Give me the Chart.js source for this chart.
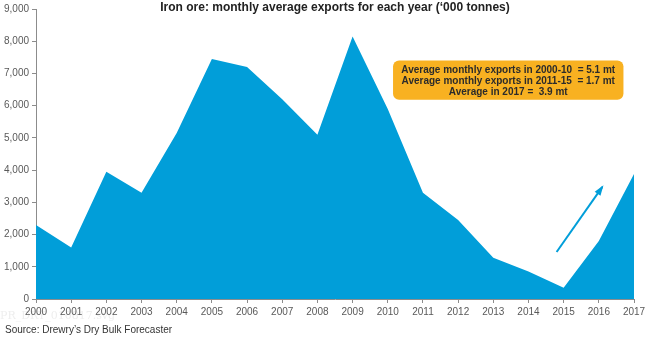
<!DOCTYPE html>
<html>
<head>
<meta charset="utf-8">
<script src="https://cdn.jsdelivr.net/npm/chart.js@4.4.1/dist/chart.umd.min.js"></script>
<style>
  html, body { margin: 0; padding: 0; background: #fff; }
  #wrap { width: 650px; height: 338px; position: relative; }
</style>
</head>
<body>
<div id="wrap"><canvas id="chart"></canvas></div>
<script>
// --- dados do gráfico ---
const years = ['2000', '2001', '2002', '2003', '2004', '2005', '2006', '2007', '2008',
               '2009', '2010', '2011', '2012', '2013', '2014', '2015', '2016', '2017'];
const exportsKt = [2300, 1600, 3950, 3300, 5150, 7450, 7200, 6200, 5100,
                   8150, 5900, 3300, 2450, 1280, 850, 350, 1800, 3880];
const yTicks = [0, 1000, 2000, 3000, 4000, 5000, 6000, 7000, 8000, 9000];
const titleText = 'Iron ore: monthly average exports for each year (\u2018000 tonnes)';
const sourceText = 'Source: Drewry\u2019s Dry Bulk Forecaster';
const watermarkText = 'PR_DRY_010817.svg';
const noteLines = [
  'Average monthly exports in 2000-10  = 5.1 mt',
  'Average monthly exports in 2011-15  = 1.7 mt',
  'Average in 2017 =  3.9 mt'
];
// seta de tendência (índice do ano, valor)
const arrowFrom = [14.8, 1460];
const arrowTo = [16.1, 3480];

const BLUE = '#019ED9';
const TEXT = '#595959';

// plugin para título, nota, seta e fonte
const extrasPlugin = {
  id: 'extras',
  beforeDraw(chart) {
    // marca d'água bem clara, atrás de tudo
    const { ctx } = chart;
    ctx.save();
    ctx.fillStyle = '#eeeeee';
    ctx.font = '11px "DejaVu Serif", serif';
    ctx.textAlign = 'left';
    ctx.textBaseline = 'middle';
    ctx.fillText(watermarkText, 0, 316);
    ctx.restore();
  },
  afterDatasetsDraw(chart) {
    const { ctx, scales: { x, y }, chartArea } = chart;
    ctx.save();
    ctx.textBaseline = 'middle';

    // título
    ctx.fillStyle = '#222';
    ctx.font = 'bold 12px "Liberation Sans", Arial, sans-serif';
    ctx.textAlign = 'center';
    ctx.fillText(titleText, (chartArea.left + chartArea.right) / 2, 8);

    // seta
    const x1 = x.getPixelForValue(arrowFrom[0]), y1 = y.getPixelForValue(arrowFrom[1]);
    const x2 = x.getPixelForValue(arrowTo[0]), y2 = y.getPixelForValue(arrowTo[1]);
    ctx.strokeStyle = BLUE;
    ctx.fillStyle = BLUE;
    ctx.lineWidth = 2;
    ctx.beginPath();
    ctx.moveTo(x1, y1);
    ctx.lineTo(x2, y2);
    ctx.stroke();
    const ang = Math.atan2(y2 - y1, x2 - x1);
    const hl = 9;
    ctx.beginPath();
    ctx.moveTo(x2 + 2 * Math.cos(ang), y2 + 2 * Math.sin(ang));
    ctx.lineTo(x2 - hl * Math.cos(ang - 0.4), y2 - hl * Math.sin(ang - 0.4));
    ctx.lineTo(x2 - hl * Math.cos(ang + 0.4), y2 - hl * Math.sin(ang + 0.4));
    ctx.closePath();
    ctx.fill();

    // caixa de nota
    const bx = x.getPixelForValue(10.15), bw = x.getPixelForValue(16.7) - bx;
    const by = y.getPixelForValue(7400), bh = y.getPixelForValue(6180) - by;
    ctx.fillStyle = '#F8B121';
    ctx.beginPath();
    ctx.roundRect(bx, by, bw, bh, 6);
    ctx.fill();
    ctx.fillStyle = '#2b2b2b';
    ctx.font = 'bold 10px "Liberation Sans", Arial, sans-serif';
    ctx.textAlign = 'center';
    noteLines.forEach((line, i) => {
      ctx.fillText(line, bx + bw / 2, by + 9.5 + i * 11);
    });

    // fonte
    ctx.fillStyle = '#333';
    ctx.font = '10px "Liberation Sans", Arial, sans-serif';
    ctx.textAlign = 'left';
    ctx.fillText(sourceText, 5, 330);
    ctx.restore();
  }
};

new Chart(document.getElementById('chart'), {
  type: 'line',
  data: {
    labels: years,
    datasets: [{
      label: 'Exports',
      data: exportsKt,
      fill: 'origin',
      backgroundColor: BLUE,
      borderColor: BLUE,
      borderWidth: 0,
      pointRadius: 0,
      tension: 0
    }]
  },
  options: {
    responsive: true,
    maintainAspectRatio: false,
    animation: false,
    layout: { padding: { top: 9, right: 16, bottom: 0, left: 0 } },
    plugins: { legend: { display: false }, tooltip: { enabled: false } },
    scales: {
      x: {
        offset: false,
        grid: { drawOnChartArea: false, drawTicks: true, tickLength: 4, color: '#8c8c8c' },
        border: { display: true, color: '#8c8c8c' },
        ticks: {
          color: TEXT, padding: 3, maxRotation: 0, autoSkip: false,
          font: { family: '"Liberation Sans", Arial, sans-serif', size: 10 }
        },
        afterFit(scale) { scale.height = 39; }
      },
      y: {
        min: 0,
        max: 9000,
        afterBuildTicks(scale) { scale.ticks = yTicks.map(v => ({ value: v })); },
        grid: { drawOnChartArea: false, drawTicks: true, tickLength: 4, color: '#8c8c8c' },
        border: { display: true, color: '#8c8c8c' },
        ticks: {
          color: TEXT, padding: 3,
          font: { family: '"Liberation Sans", Arial, sans-serif', size: 10 },
          callback: v => v.toLocaleString('en-US')
        },
        afterFit(scale) { scale.width = 36; }
      }
    }
  },
  plugins: [extrasPlugin]
});
</script>
</body>
</html>
